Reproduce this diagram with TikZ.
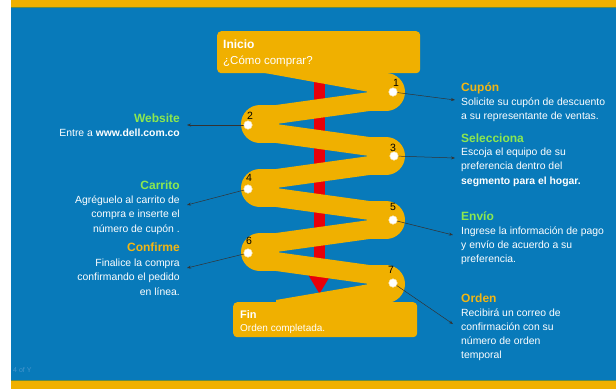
\documentclass[tikz,border=0pt]{standalone}
\usepackage{fontspec}
\setmainfont{Liberation Sans}
\usetikzlibrary{arrows.meta}
\definecolor{bgblue}{RGB}{8,122,186}
\definecolor{ribbon}{RGB}{240,176,0}
\definecolor{titlegreen}{RGB}{140,232,80}
\definecolor{titleyellow}{RGB}{242,182,20}
\definecolor{arrowred}{RGB}{232,0,10}
\definecolor{bandline}{RGB}{100,140,70}
\definecolor{faint}{RGB}{70,150,205}
\tikzset{
  ribfill/.style={fill=ribbon, draw=none},
  pointdot/.style={circle, fill=white, draw=ribbon!50!white, line width=0.3pt, minimum size=8.5pt, inner sep=0pt},
  numlabel/.style={font=\fontsize{10.5}{10}\selectfont, text=black, inner sep=0pt, anchor=base},
  linkline/.style={draw=black!80, line width=0.5pt, -{Stealth[length=4pt,width=3pt]}},
  ttl/.style={font=\bfseries\fontsize{12}{12}\selectfont, inner sep=0pt},
  body/.style={font=\fontsize{10.4}{12}\selectfont, text=white, inner sep=0pt},
  endbox/.style={fill=ribbon, draw=none, rounded corners=4pt, inner sep=0pt, anchor=north west},
}
\begin{document}
\begin{tikzpicture}[x=1pt,y=-1pt]
\useasboundingbox (0,0) rectangle (616,389);
% background
\fill[bgblue] (0,0) rectangle (616,389);
\fill[ribbon] (0,0) rectangle (616,7.4);
\fill[ribbon] (0,381) rectangle (616,389);
\draw[bandline, line width=0.8pt] (0,7.8) -- (616,7.8);
\draw[bandline, line width=0.8pt] (0,380.8) -- (616,380.8);
\fill[white] (0,0) rectangle (11,389);

% red arrow behind the ribbon
\coordinate (ra) at (319.5,72);
\coordinate (rb) at (319.5,294);
\draw[arrowred, line width=10.5pt, -{Triangle[length=19pt,width=21pt]}] (ra) -- (rb);

% ribbon: turn caps
\foreach \y in {92,156,220,284} {
  \fill[ribfill] (386,\y) circle [radius=19];
  \fill[ribfill] (368,\y-19) rectangle (386.5,\y+19);
}
\foreach \y in {124,188,252} {
  \fill[ribfill] (260,\y) circle [radius=19];
  \fill[ribfill] (259.5,\y-19) rectangle (278,\y+19);
}
% ribbon: legs
\foreach \y in {92,156,220} {
  \fill[ribfill] (369.5,\y) -- (369.5,\y+19) -- (276,\y+32) -- (276,\y+13) -- cycle;
}
\foreach \y in {124,188,252} {
  \fill[ribfill] (276,\y) -- (276,\y+19) -- (369.5,\y+32) -- (369.5,\y+13) -- cycle;
}
\fill[ribfill] (262,56) -- (369.5,73) -- (369.5,92) -- (262,72.5) -- cycle;
\fill[ribfill] (369.5,284) -- (369.5,303) -- (276,318) -- (276,300) -- cycle;

% start and end boxes
\node[endbox, minimum width=203pt, minimum height=42pt] (inicio) at (217,31) {};
\node[ttl, text=white, anchor=base west] (inicioT) at (223,48) {Inicio};
\node[font=\fontsize{11.5}{12}\selectfont, text=white, inner sep=0pt, anchor=base west] (inicioS) at (223,64) {¿Cómo comprar?};
\node[endbox, minimum width=184pt, minimum height=35pt] (fin) at (233,302) {};
\node[font=\bfseries\fontsize{11}{12}\selectfont, text=white, inner sep=0pt, anchor=base west] (finT) at (240,318) {Fin};
\node[font=\fontsize{10}{12}\selectfont, text=white, inner sep=0pt, anchor=base west] (finS) at (240,331.5) {Orden completada.};

% dots and numbers
\node[pointdot] (d1) at (393,92) {};
\node[pointdot] (d2) at (248,125) {};
\node[pointdot] (d3) at (394,156) {};
\node[pointdot] (d4) at (248,189) {};
\node[pointdot] (d5) at (393,220) {};
\node[pointdot] (d6) at (248,253) {};
\node[pointdot] (d7) at (393,283) {};
\node[numlabel] (n1) at (396,86) {1};
\node[numlabel] (n2) at (250,119) {2};
\node[numlabel] (n3) at (393,151) {3};
\node[numlabel] (n4) at (249,181) {4};
\node[numlabel] (n5) at (393,210) {5};
\node[numlabel] (n6) at (249,244) {6};
\node[numlabel] (n7) at (391,273) {7};

% connector ends
\coordinate (t1) at (455,100);
\coordinate (t2) at (187,125);
\coordinate (t3) at (455,158);
\coordinate (t4) at (187,205);
\coordinate (t5) at (453,235);
\coordinate (t6) at (187,268);
\coordinate (t7) at (453,324);
\foreach \k in {1,...,7} { \draw[linkline] (d\k.center) -- (t\k); }
\foreach \k in {1,...,7} { \node[pointdot] (e\k) at (d\k) {}; }

% right-hand texts
\node[ttl, text=titleyellow, anchor=base west] (cupon) at (461,91) {Cupón};
\node[body, anchor=base west] (cupon1) at (461,105) {Solicite su cupón de descuento};
\node[body, anchor=base west] (cupon2) at (461,119.5) {a su representante de ventas.};

\node[ttl, text=titlegreen, anchor=base west] (selec) at (461,142) {Selecciona};
\node[body, anchor=base west] (selec1) at (461,155) {Escoja el equipo de su};
\node[body, anchor=base west] (selec2) at (461,169.5) {preferencia dentro del};
\node[body, anchor=base west] (selec3) at (461,184) {\bfseries segmento para el hogar.};

\node[ttl, text=titlegreen, anchor=base west] (envio) at (461,220) {Envío};
\node[body, anchor=base west] (envio1) at (461,234) {Ingrese la información de pago};
\node[body, anchor=base west] (envio2) at (461,248) {y envío de acuerdo a su};
\node[body, anchor=base west] (envio3) at (461,262) {preferencia.};

\node[ttl, text=titleyellow, anchor=base west] (orden) at (461,302) {Orden};
\node[body, anchor=base west] (orden1) at (461,316) {Recibirá un correo de};
\node[body, anchor=base west] (orden2) at (461,330.5) {confirmación con su};
\node[body, anchor=base west] (orden3) at (461,344.5) {número de orden};
\node[body, anchor=base west] (orden4) at (461,358.5) {temporal};

% left-hand texts
\node[ttl, text=titlegreen, anchor=base east] (web) at (180,122) {Website};
\node[body, anchor=base east] (web1) at (180,136) {Entre a \textbf{www.dell.com.co}};

\node[ttl, text=titlegreen, anchor=base east] (carr) at (180,189) {Carrito};
\node[body, anchor=base east] (carr1) at (180,203) {Agréguelo al carrito de};
\node[body, anchor=base east] (carr2) at (180,217.5) {compra e inserte el};
\node[body, anchor=base east] (carr3) at (180,232) {número de cupón .};

\node[ttl, text=titleyellow, anchor=base east] (conf) at (180,251) {Confirme};
\node[body, anchor=base east] (conf1) at (180,266) {Finalice la compra};
\node[body, anchor=base east] (conf2) at (180,280.5) {confirmando el pedido};
\node[body, anchor=base east] (conf3) at (180,295) {en línea.};

% page mark
\node[font=\fontsize{7}{7}\selectfont, text=faint, inner sep=0pt, anchor=base west] (pg) at (13,372) {4 of Y};
\end{tikzpicture}
\end{document}
